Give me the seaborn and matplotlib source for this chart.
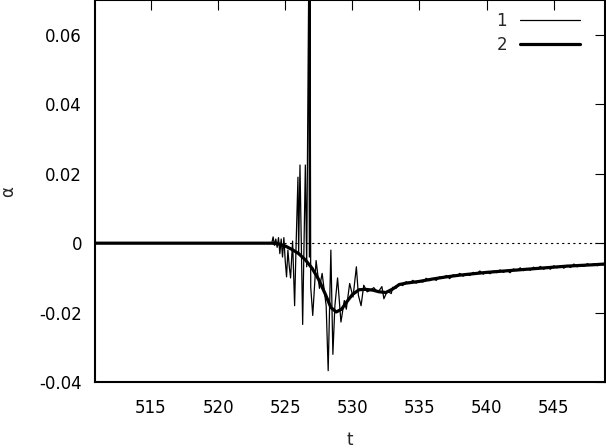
import matplotlib
matplotlib.use("Agg")
import matplotlib.pyplot as plt
import seaborn as sns
import pandas as pd

# ------------------------------
# data
# ------------------------------
# series 1: raw (noisy) alpha
t1 = [510.8, 524.0, 524.1, 524.2, 524.3, 524.4, 524.5, 524.6, 524.7, 524.8,
      524.9, 525.0, 525.1, 525.2, 525.3, 525.4, 525.55, 525.7, 525.8, 525.95,
      526.0, 526.1, 526.3, 526.5, 526.6, 526.75, 526.8, 526.85, 526.9, 527.05,
      527.3, 527.55, 527.75, 528.05, 528.2, 528.4, 528.55, 528.7, 528.9, 529.15,
      529.4, 529.55, 529.8, 530.05, 530.3, 530.45, 530.65, 530.85, 531.1, 531.3,
      531.6, 531.9, 532.2, 532.35, 532.6, 532.9,
      533.0, 533.25, 533.5, 533.75, 534.0, 534.25, 534.5, 534.75,
      535.0, 535.25, 535.5, 535.75, 536.0, 536.25, 536.5, 536.75,
      537.0, 537.25, 537.5, 537.75, 538.0, 538.25, 538.5, 538.75,
      539.0, 539.25, 539.5, 539.75, 540.0, 540.25, 540.5, 540.75,
      541.0, 541.25, 541.5, 541.75, 542.0, 542.25, 542.5, 542.75,
      543.0, 543.25, 543.5, 543.75, 544.0, 544.25, 544.5, 544.75,
      545.0, 545.25, 545.5, 545.75, 546.0, 546.25, 546.5, 546.75,
      547.0, 547.25, 547.5, 547.75, 548.0, 548.25, 548.5, 548.75]
alpha1 = [0.0, 0.0, 0.0018, -0.0006, 0.0012, -0.0012, 0.0016, -0.003, 0.0012, -0.004,
          0.0016, -0.005, -0.0097, -0.002, -0.0066, -0.010, 0.0006, -0.018, -0.002, 0.019,
          -0.003, 0.0225, -0.0234, 0.0225, -0.0068, 0.075, -0.004, 0.075, -0.0126, -0.0208,
          -0.005, -0.013, -0.0087, -0.018, -0.0367, -0.002, -0.032, -0.018, -0.010, -0.0227,
          -0.0165, -0.019, -0.0116, -0.0155, -0.0068, -0.015, -0.018, -0.0121, -0.0140, -0.0136,
          -0.0128, -0.0142, -0.0125, -0.0160, -0.0138, -0.0145,
          -0.0127, -0.0130, -0.0116, -0.0122, -0.0111, -0.0116, -0.0107, -0.0115,
          -0.0108, -0.0112, -0.0101, -0.0108, -0.0102, -0.0107, -0.0097, -0.0101,
          -0.0093, -0.0102, -0.0091, -0.0095, -0.0087, -0.0095, -0.0088, -0.0093,
          -0.0084, -0.0088, -0.0080, -0.0089, -0.0082, -0.0088, -0.0080, -0.0085,
          -0.0077, -0.0084, -0.0078, -0.0085, -0.0074, -0.0079, -0.0071, -0.0079,
          -0.0073, -0.0078, -0.0069, -0.0075, -0.0067, -0.0075, -0.0069, -0.0075,
          -0.0065, -0.0071, -0.0065, -0.0072, -0.0064, -0.0070, -0.0060, -0.0068,
          -0.0062, -0.0067, -0.0059, -0.0064, -0.0059, -0.0065, -0.0059, -0.0063]

# series 2: smoothed alpha
t2 = [510.8, 524.0, 524.5, 525.0, 525.5, 526.0, 526.5, 527.0, 527.5, 528.0,
      528.4, 528.8, 529.2, 529.6, 530.0, 530.5, 531.0, 531.5, 532.0, 532.5,
      533.0, 533.5, 534.0, 535.0, 536.0, 537.0, 538.0, 539.0, 540.0, 541.0,
      542.0, 543.0, 544.0, 545.0, 546.0, 547.0, 548.0, 548.8]
alpha2 = [0.0, 0.0, -0.0002, -0.0008, -0.0018, -0.003, -0.0048, -0.0072, -0.0105, -0.0148,
          -0.0185, -0.0198, -0.0190, -0.0168, -0.0148, -0.0134, -0.0133, -0.0135, -0.0140, -0.0142,
          -0.0132, -0.0119, -0.0115, -0.0110, -0.0103, -0.0097, -0.0092, -0.0088, -0.0084, -0.0081,
          -0.0078, -0.0075, -0.0072, -0.0069, -0.0066, -0.0064, -0.0062, -0.0060]

x_ticks = [515, 520, 525, 530, 535, 540, 545]
y_ticks = [-0.04, -0.02, 0.0, 0.02, 0.04, 0.06]
y_tick_labels = ["-0.04", "-0.02", "0", "0.02", "0.04", "0.06"]

df1 = pd.DataFrame({"t": t1, "alpha": alpha1})
df2 = pd.DataFrame({"t": t2, "alpha": alpha2})

# ------------------------------
# plot
# ------------------------------
sns.set_theme(style="white")
plt.rcParams["font.family"] = ["DejaVu Sans"]

fig = plt.figure(figsize=(6.06, 4.48), dpi=100)
ax = fig.add_axes([0.156, 0.147, 0.842, 0.853])

ax.axhline(0, color="black", lw=0.8, ls=(0, (2, 3)), zorder=1)
sns.lineplot(data=df1, x="t", y="alpha", ax=ax, color="black", lw=0.9,
             sort=False, estimator=None, label="1")
sns.lineplot(data=df2, x="t", y="alpha", ax=ax, color="black", lw=2.3,
             sort=False, estimator=None, label="2")

ax.set_xlim(510.8, 548.8)
ax.set_ylim(-0.04, 0.07)
ax.set_xticks(x_ticks)
ax.set_yticks(y_ticks)
ax.set_yticklabels(y_tick_labels)
ax.tick_params(direction="in", length=7, width=0.8, top=True, right=True,
               labelsize=12, colors="black")
ax.tick_params(axis="x", pad=12)
ax.tick_params(axis="y", pad=9)
for sp in ax.spines.values():
    sp.set_color("black")
    sp.set_linewidth(1.5)

ax.set_xlabel("t", fontsize=12, labelpad=10)
ax.set_ylabel("α", fontsize=12, labelpad=16)

ax.legend(loc="upper right", frameon=False, markerfirst=False, fontsize=12,
          handlelength=3.6, labelspacing=0.35, bbox_to_anchor=(0.975, 1.0),
          borderaxespad=0.3)

fig.savefig("out.png", dpi=100)
